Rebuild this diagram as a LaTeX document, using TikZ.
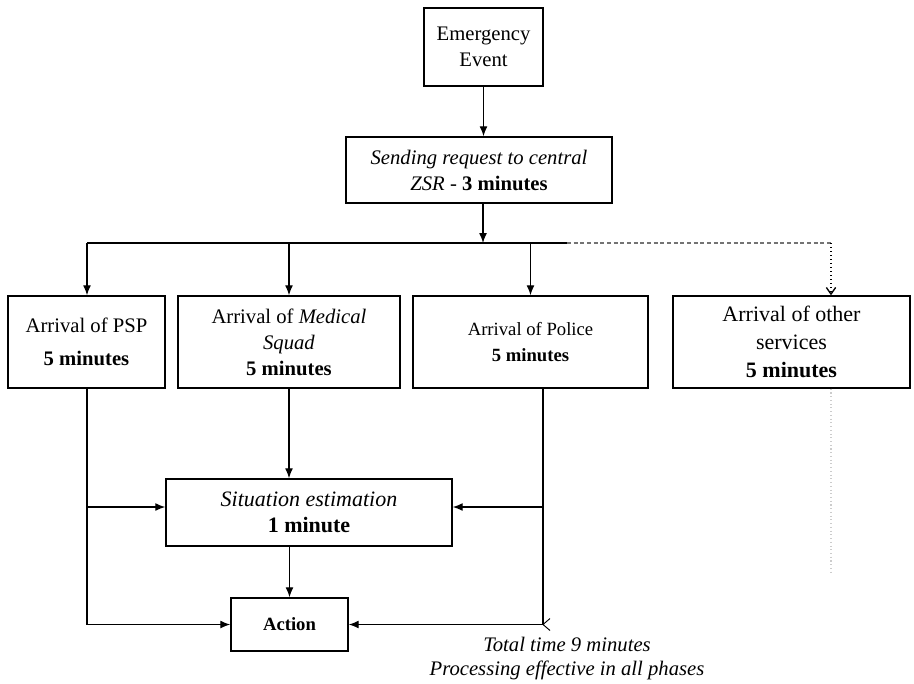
\documentclass[tikz,border=0pt]{standalone}
\usepackage{fontspec}
\setmainfont{Liberation Serif}
\usetikzlibrary{arrows.meta}

\begin{document}
\begin{tikzpicture}[x=0.75pt,y=-0.75pt,
    box/.style={draw,line width=1.1pt,align=center,inner sep=2pt,font=\fontsize{15.5}{19.5}\selectfont},
    arr/.style={-{Latex[length=7.5pt,width=6pt]},line width=1pt},
    link/.style={line width=1pt}]
    \useasboundingbox (0,0) rectangle (914,683);

    \node[box,minimum width=89.25pt,minimum height=58.5pt] (event) at (483.5,47) {Emergency\\Event};
    \node[box,minimum width=199.5pt,minimum height=49.5pt] (request) at (479,170)
        {\textit{Sending request to central}\\\textit{ZSR} - \textbf{3 minutes}};
    \node[box,minimum width=117.75pt,minimum height=69pt] (psp) at (86.5,342)
        {Arrival of PSP\\[5pt]\textbf{5 minutes}};
    \node[box,minimum width=166.5pt,minimum height=69pt] (medical) at (289,342)
        {Arrival of \textit{Medical}\\\textit{Squad}\\\textbf{5 minutes}};
    \node[box,minimum width=176.25pt,minimum height=69pt,font=\fontsize{14}{20}\selectfont] (police) at (530.5,342)
        {Arrival of Police\\\textbf{5 minutes}};
    \node[box,minimum width=177.75pt,minimum height=69pt,font=\fontsize{16.5}{21}\selectfont] (others) at (791.5,342)
        {Arrival of other\\services\\\textbf{5 minutes}};
    \node[box,minimum width=214.5pt,minimum height=50.25pt,font=\fontsize{16.5}{20}\selectfont] (situation) at (309,512.5)
        {\textit{Situation estimation}\\\textbf{1 minute}};
    \node[box,minimum width=87.75pt,minimum height=39.75pt,font=\fontsize{14}{16}\selectfont] (action) at (289.5,624.5)
        {\textbf{Action}};
    \node[align=center,font=\itshape\fontsize{15.5}{18}\selectfont] (note) at (567,659)
        {Total time 9 minutes\\Processing effective in all phases};

    \coordinate (bus) at (483,243);
    \coordinate (busL) at (87,243);
    \coordinate (fade) at (567,243);
    \coordinate (busR) at (831,243);
    \coordinate (pspm) at (87,507);
    \coordinate (polm) at (543,507);
    \coordinate (polc) at (543,624.5);
    \coordinate (tail) at (831,575);

    \draw[arr] (event) -- (event |- request.north);
    \draw[arr] (request.south -| bus) -- (bus);
    \draw[link] (busL) -- (fade);
    \draw[link,densely dashed,black!55] (fade) -- (busR);
    \draw[arr] (busL) -- (busL |- psp.north);
    \draw[arr] (busL -| medical) -- (medical);
    \draw[arr] (busL -| police) -- (police);
    \draw[link,dotted,-{Straight Barb[length=5pt,width=7pt]}] (busR) -- (busR |- others.north);
    \draw[dotted,black!20,line width=0.8pt] (others.south -| tail) -- (tail);

    \draw[arr] (medical) -- (medical |- situation.north);
    \draw[arr] (action |- situation.south) -- (action);
    \draw[link] (psp.south -| pspm) -- (pspm |- action);
    \draw[arr] (pspm) -- (pspm -| situation.west);
    \draw[arr] (pspm |- action) -- (action);
    \draw[link] (police.south -| polc) -- (polc);
    \draw[arr] (polm) -- (polm -| situation.east);
    \draw[arr] (polc) -- (action);
    \draw[line width=0.7pt] (polc) ++(7,-6) -- (polc) -- ++(7,6);
\end{tikzpicture}
\end{document}
